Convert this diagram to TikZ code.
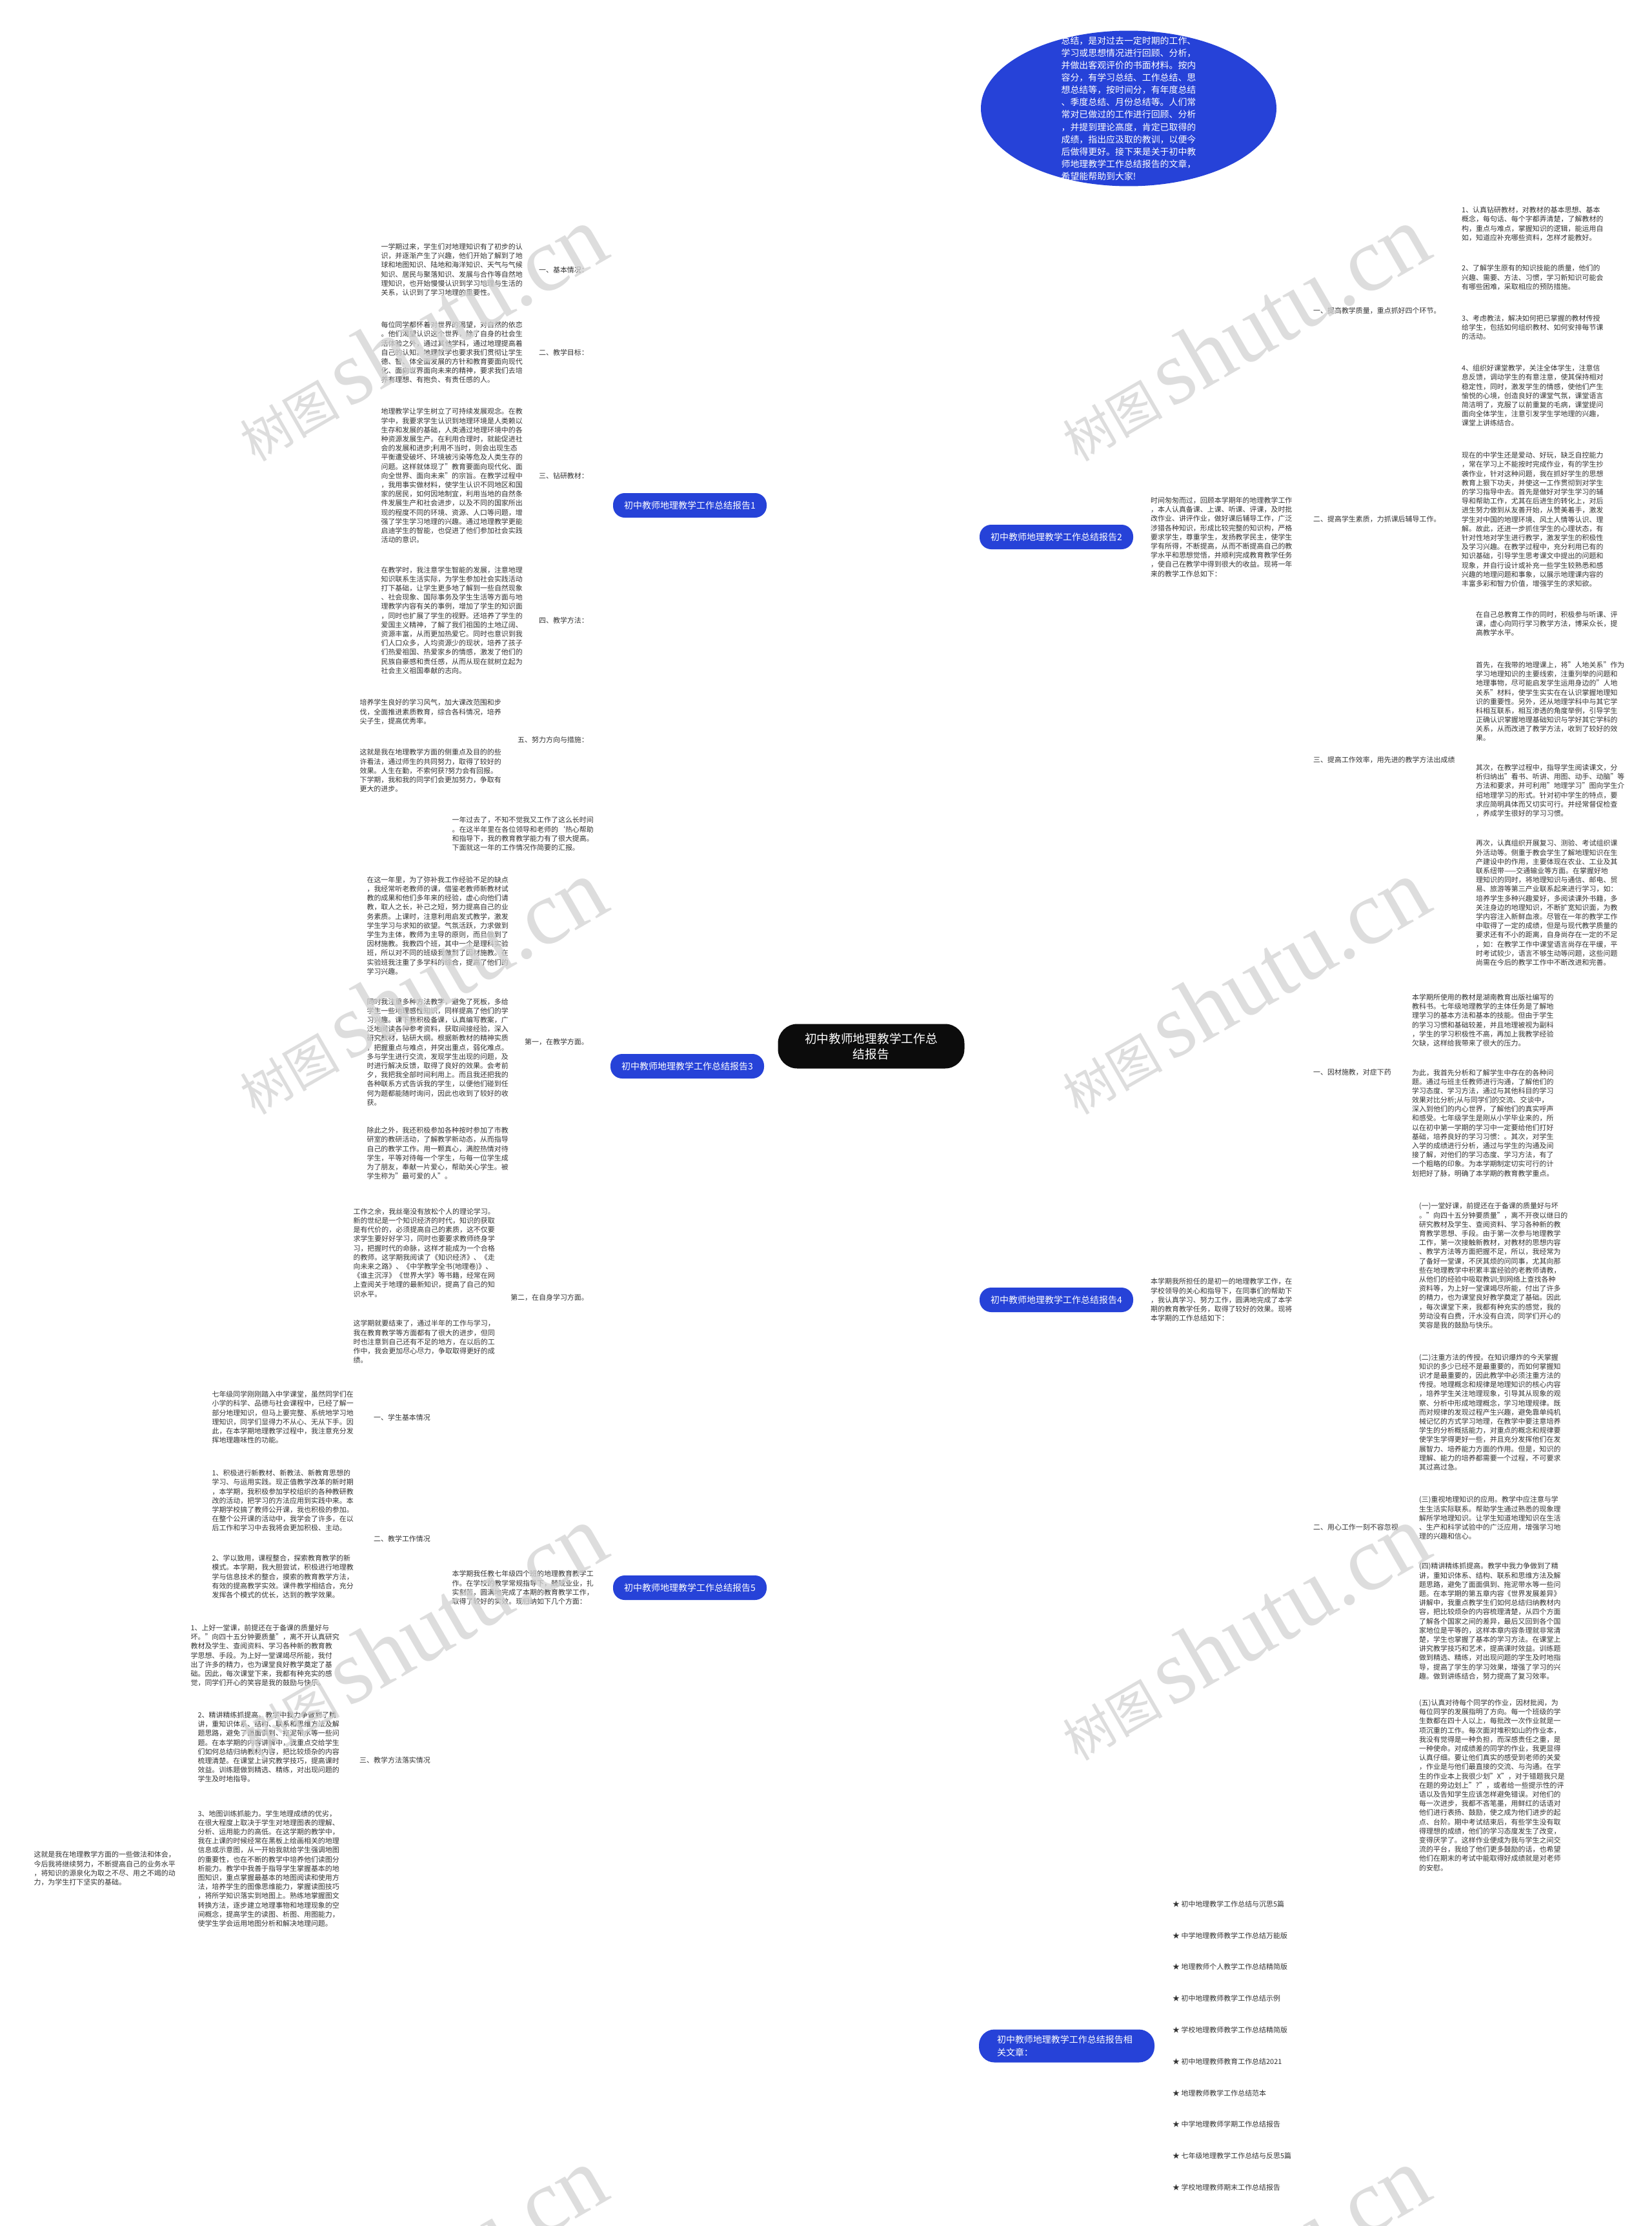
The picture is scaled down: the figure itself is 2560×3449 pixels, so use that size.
\documentclass[tikz,border=0pt]{standalone}
\usepackage{fontspec}
\setmainfont{Noto Sans CJK SC}
\newfontfamily\wmfont{Liberation Serif}
\usepackage{tikz}
\usetikzlibrary{positioning,backgrounds,shapes.geometric}
\definecolor{cblue}{HTML}{2642D8}
\definecolor{croot}{HTML}{0C0C0C}
\definecolor{ctext}{HTML}{333333}
\definecolor{cwm}{HTML}{D2D2D2}
\tikzset{
  root/.style={fill=croot,text=white,rounded corners=1.5cm,align=center,inner sep=0pt,
    minimum width=14.45cm,minimum height=3.45cm,font=\fontsize{26.6}{34.1}\selectfont},
  topic/.style={fill=cblue,text=white,rounded corners=0.9cm,inner sep=0pt,
    minimum width=11.9cm,minimum height=1.9cm,font=\fontsize{19.9}{28.5}\selectfont},
  sub/.style={text=ctext,inner sep=0.1cm,font=\fontsize{15.6}{20.2}\selectfont},
  leaf/.style={sub,align=left},
  link/.style={draw=black,line width=0.1cm,rounded corners=0.4cm},
  wm/.style={text=cwm,rotate=30,opacity=0.75},
}

\begin{document}
\begin{tikzpicture}[x=0.05cm,y=-0.05cm]
\fill[white] (0,0) rectangle (2560,3449);
\useasboundingbox (0,0) rectangle (2560,3449);

% ================= root and intro =================
\node[root] (ctr) at (1350,1621) {初中教师地理教学工作总\\结报告};
\node[ellipse,fill=cblue,minimum width=22.9cm,minimum height=12.05cm,inner sep=0pt] (tip) at (1749,168) {};
\node[text=white,align=left,font=\fontsize{19.8}{27.2}\selectfont] (tiptext) at (tip.center)
  {总结，是对过去一定时期的工作、\\学习或思想情况进行回顾、分析，\\并做出客观评价的书面材料。按内\\容分，有学习总结、工作总结、思\\想总结等，按时间分，有年度总结\\、季度总结、月份总结等。人们常\\常对已做过的工作进行回顾、分析\\，并提到理论高度，肯定已取得的\\成绩，指出应汲取的教训，以便今\\后做得更好。接下来是关于初中教\\师地理教学工作总结报告的文章，\\希望能帮助到大家!};

% ================= report 1 =================
\node[topic] (b1) at (1069,783) {初中教师地理教学工作总结报告1};
\node[sub,anchor=east] (b1a) at (914,418) {一、基本情况：};
\node[sub,anchor=east] (b1b) at (914,546) {二、教学目标：};
\node[sub,anchor=east] (b1c) at (914,737) {三、钻研教材：};
\node[sub,anchor=east] (b1d) at (914,961) {四、教学方法：};
\node[sub,anchor=east] (b1e) at (914,1146) {五、努力方向与措施：};
\node[leaf,anchor=east] (b1a1) at (812,418) {一学期过来，学生们对地理知识有了初步的认\\识，并逐渐产生了兴趣，他们开始了解到了地\\球和地图知识、陆地和海洋知识、天气与气候\\知识、居民与聚落知识、发展与合作等自然地\\理知识，也开始慢慢认识到学习地理与生活的\\关系，认识到了学习地理的重要性。};
\node[leaf,anchor=east] (b1b1) at (812,546) {每位同学都怀着对世界的渴望，对自然的依恋\\。他们渴望认识这个世界，除了自身的社会生\\活体验之外，通过其他学科，通过地理提高着\\自己的认知。地理教学也要求我们贯彻让学生\\德、智、体全面发展的方针和教育要面向现代\\化、面向世界面向未来的精神，要求我们去培\\养有理想、有抱负、有责任感的人。};
\node[leaf,anchor=east] (b1c1) at (812,737) {地理教学让学生树立了可持续发展观念。在教\\学中，我要求学生认识到地理环境是人类赖以\\生存和发展的基础，人类通过地理环境中的各\\种资源发展生产。在利用合理时，就能促进社\\会的发展和进步;利用不当时，则会出现生态\\平衡遭受破坏、环境被污染等危及人类生存的\\问题。这样就体现了"教育要面向现代化、面\\向全世界、面向未来"的宗旨。在教学过程中\\，我用事实做材料，使学生认识不同地区和国\\家的居民，如何因地制宜，利用当地的自然条\\件发展生产和社会进步，以及不同的国家所出\\现的程度不同的环境、资源、人口等问题，增\\强了学生学习地理的兴趣。通过地理教学更能\\启迪学生的智能，也促进了他们参加社会实践\\活动的意识。};
\node[leaf,anchor=east] (b1d1) at (812,961) {在教学时，我注意学生智能的发展，注意地理\\知识联系生活实际，为学生参加社会实践活动\\打下基础，让学生更多地了解到一些自然现象\\、社会现象、国际事务及学生生活等方面与地\\理教学内容有关的事例，增加了学生的知识面\\，同时也扩展了学生的视野。还培养了学生的\\爱国主义精神，了解了我们祖国的土地辽阔、\\资源丰富，从而更加热爱它。同时也意识到我\\们人口众多，人均资源少的现状，培养了孩子\\们热爱祖国、热爱家乡的情感，激发了他们的\\民族自豪感和责任感，从而从现在就树立起为\\社会主义祖国奉献的志向。};
\node[leaf,anchor=east] (b1e1) at (779,1103) {培养学生良好的学习风气，加大课改范围和步\\伐，全面推进素质教育，综合各科情况，培养\\尖子生，提高优秀率。};
\node[leaf,anchor=east] (b1e2) at (779,1194) {这就是我在地理教学方面的侧重点及目的的些\\许看法，通过师生的共同努力，取得了较好的\\效果。人生在勤，不索何获?努力会有回报。\\下学期，我和我的同学们会更加努力，争取有\\更大的进步。};

% ================= report 2 =================
\node[topic] (b2) at (1637,832) {初中教师地理教学工作总结报告2};
\node[leaf,anchor=west] (b2t) at (1781,832) {时间匆匆而过，回顾本学期年的地理教学工作\\，本人认真备课、上课、听课、评课，及时批\\改作业、讲评作业，做好课后辅导工作，广泛\\涉猎各种知识，形成比较完整的知识构，严格\\要求学生，尊重学生，发扬教学民主，使学生\\学有所得，不断提高，从而不断提高自己的教\\学水平和思想觉悟，并顺利完成教育教学任务\\，使自己在教学中得到很大的收益。现将一年\\来的教学工作总如下：};
\node[sub,anchor=west] (b2a) at (2033,481) {一、提高教学质量，重点抓好四个环节。};
\node[sub,anchor=west] (b2b) at (2033,804) {二、提高学生素质，力抓课后辅导工作。};
\node[sub,anchor=west] (b2c) at (2033,1177) {三、提高工作效率，用先进的教学方法出成绩};
\node[leaf,anchor=west] (b2a1) at (2263,347) {1、认真钻研教材，对教材的基本思想、基本\\概念，每句话、每个字都弄清楚，了解教材的\\构，重点与难点，掌握知识的逻辑，能运用自\\如，知道应补充哪些资料，怎样才能教好。};
\node[leaf,anchor=west] (b2a2) at (2263,430) {2、了解学生原有的知识技能的质量，他们的\\兴趣、需要、方法、习惯，学习新知识可能会\\有哪些困难，采取相应的预防措施。};
\node[leaf,anchor=west] (b2a3) at (2263,507) {3、考虑教法，解决如何把已掌握的教材传授\\给学生，包括如何组织教材、如何安排每节课\\的活动。};
\node[leaf,anchor=west] (b2a4) at (2263,613) {4、组织好课堂教学，关注全体学生，注意信\\息反馈，调动学生的有意注意，使其保持相对\\稳定性，同时，激发学生的情感，使他们产生\\愉悦的心境，创造良好的课堂气氛，课堂语言\\简洁明了，克服了以前重复的毛病，课堂提问\\面向全体学生，注意引发学生学地理的兴趣，\\课堂上讲练结合。};
\node[leaf,anchor=west] (b2b1) at (2263,805) {现在的中学生还是爱动、好玩，缺乏自控能力\\，常在学习上不能按时完成作业，有的学生抄\\袭作业，针对这种问题，我在抓好学生的思想\\教育上狠下功夫，并使这一工作贯彻到对学生\\的学习指导中去。首先是做好对学生学习的辅\\导和帮助工作，尤其在后进生的转化上，对后\\进生努力做到从友善开始，从赞美着手，激发\\学生对中国的地理环境、风土人情等认识、理\\解。故此，还进一步抓住学生的心理状态，有\\针对性地对学生进行教学，激发学生的积极性\\及学习兴趣。在教学过程中，充分利用已有的\\知识基础，引导学生思考课文中提出的问题和\\现象，并自行设计或补充一些学生较熟悉和感\\兴趣的地理问题和事象，以展示地理课内容的\\丰富多彩和智力价值，增强学生的求知欲。};
\node[leaf,anchor=west] (b2c1) at (2285,966) {在自己总教育工作的同时，积极参与听课、评\\课，虚心向同行学习教学方法，博采众长，提\\高教学水平。};
\node[leaf,anchor=west] (b2c2) at (2285,1087) {首先，在我带的地理课上，将"人地关系"作为\\学习地理知识的主要线索，注重列举的问题和\\地理事物，尽可能启发学生运用身边的"人地\\关系"材料，使学生实实在在认识掌握地理知\\识的重要性。另外，还从地理学科中与其它学\\科相互联系，相互渗透的角度举例，引导学生\\正确认识掌握地理基础知识与学好其它学科的\\关系，从而改进了教学方法，收到了较好的效\\果。};
\node[leaf,anchor=west] (b2c3) at (2285,1225) {其次，在教学过程中，指导学生阅读课文，分\\析归纳出"看书、听讲、用图、动手、动脑"等\\方法和要求，并可利用"地理学习"图向学生介\\绍地理学习的形式。针对初中学生的特点，要\\求应简明具体而又切实可行。并经常督促检查\\，养成学生很好的学习习惯。};
\node[leaf,anchor=west] (b2c4) at (2285,1399) {再次，认真组织开展复习、测验、考试组织课\\外活动等。侧重于教会学生了解地理知识在生\\产建设中的作用，主要体现在农业、工业及其\\联系纽带——交通输业等方面。在掌握好地\\理知识的同时，将地理知识与通信、邮电、贸\\易、旅游等第三产业联系起来进行学习，如：\\培养学生多种兴趣爱好，多阅读课外书籍，多\\关注身边的地理知识，不断扩宽知识面，为教\\学内容注入新鲜血液。尽管在一年的教学工作\\中取得了一定的成绩，但是与现代教学质量的\\要求还有不小的距离，自身尚存在一定的不足\\，如：在教学工作中课堂语言尚存在平缓，平\\时考试较少，语言不够生动等问题，这些问题\\尚需在今后的教学工作中不断改进和完善。};

% ================= report 3 =================
\node[topic] (b3) at (1065,1652) {初中教师地理教学工作总结报告3};
\node[leaf,anchor=east] (b3t) at (922,1292) {一年过去了，不知不觉我又工作了这么长时间\\。在这半年里在各位领导和老师的‘热心帮助\\和指导下，我的教育教学能力有了很大提高。\\下面就这一年的工作情况作简要的汇报。};
\node[sub,anchor=east] (b3a) at (914,1614) {第一，在教学方面。};
\node[sub,anchor=east] (b3b) at (914,2010) {第二，在自身学习方面。};
\node[leaf,anchor=east] (b3a1) at (790,1434) {在这一年里，为了弥补我工作经验不足的缺点\\，我经常听老教师的课，借鉴老教师新教材试\\教的成果和他们多年来的经验，虚心向他们请\\教，取人之长，补己之短，努力提高自己的业\\务素质。上课时，注意利用启发式教学，激发\\学生学习与求知的欲望。气氛活跃，力求做到\\学生为主体，教师为主导的原则，而且做到了\\因材施教。我教四个班，其中一个是理科实验\\班，所以对不同的班级我做到了因材施教。在\\实验班我注重了多学科的综合，提高了他们的\\学习兴趣。};
\node[leaf,anchor=east] (b3a2) at (790,1630) {同时我注重多种方法教学，避免了死板，多给\\学生一些地理感性知识，同样提高了他们的学\\习兴趣。课下我积极备课，认真编写教案，广\\泛地阅读各种参考资料，获取间接经验，深入\\研究教材，钻研大纲。根据新教材的精神实质\\，把握重点与难点，并突出重点，弱化难点。\\多与学生进行交流，发现学生出现的问题，及\\时进行解决反馈，取得了良好的效果。会考前\\夕，我把我全部时间利用上。而且我还把我的\\各种联系方式告诉我的学生，以便他们碰到任\\何为题都能随时询问，因此也收到了较好的收\\获。};
\node[leaf,anchor=east] (b3a3) at (790,1787) {除此之外，我还积极参加各种按时参加了市教\\研室的教研活动，了解教学新动态，从而指导\\自己的教学工作。用一颗真心，满腔热情对待\\学生，平等对待每一个学生，与每一位学生成\\为了朋友，奉献一片爱心，帮助关心学生。被\\学生称为"最可爱的人"。};
\node[leaf,anchor=east] (b3b1) at (769,1941) {工作之余，我丝毫没有放松个人的理论学习。\\新的世纪是一个知识经济的时代，知识的获取\\是有代价的，必须提高自己的素质，这不仅要\\求学生要好好学习，同时也要要求教师终身学\\习，把握时代的命脉，这样才能成为一个合格\\的教师。这学期我阅读了《知识经济》、《走\\向未来之路》、《中学教学全书(地理卷)》、\\《谁主沉浮》《世界大学》等书籍，经常在网\\上查阅关于地理的最新知识，提高了自己的知\\识水平。};
\node[leaf,anchor=east] (b3b2) at (769,2079) {这学期就要结束了，通过半年的工作与学习，\\我在教育教学等方面都有了很大的进步，但同\\时也注意到自己还有不足的地方，在以后的工\\作中，我会更加尽心尽力，争取取得更好的成\\绩。};

% ================= report 4 =================
\node[topic] (b4) at (1637,2014) {初中教师地理教学工作总结报告4};
\node[leaf,anchor=west] (b4t) at (1781,2014) {本学期我所担任的是初一的地理教学工作，在\\学校领导的关心和指导下，在同事们的帮助下\\，我认真学习、努力工作，圆满地完成了本学\\期的教育教学任务，取得了较好的效果。现将\\本学期的工作总结如下：};
\node[sub,anchor=west] (b4a) at (2033,1661) {一、因材施教，对症下药};
\node[sub,anchor=west] (b4b) at (2033,2366) {二、用心工作一刻不容忽视};
\node[leaf,anchor=west] (b4a1) at (2186,1581) {本学期所使用的教材是湖南教育出版社编写的\\教科书。七年级地理教学的主体任务是了解地\\理学习的基本方法和基本的技能。但由于学生\\的学习习惯和基础较差，并且地理被视为副科\\，学生的学习积极性不高，再加上我教学经验\\欠缺，这样给我带来了很大的压力。};
\node[leaf,anchor=west] (b4a2) at (2186,1740) {为此，我首先分析和了解学生中存在的各种问\\题。通过与班主任教师进行沟通，了解他们的\\学习态度、学习方法，通过与其他科目的学习\\效果对比分析;从与同学们的交流、交谈中，\\深入到他们的内心世界，了解他们的真实呼声\\和感受。七年级学生是刚从小学毕业来的，所\\以在初中第一学期的学习中一定要给他们打好\\基础，培养良好的学习习惯：。其次，对学生\\入学的成绩进行分析，通过与学生的沟通及间\\接了解，对他们的学习态度、学习方法，有了\\一个粗略的印象。为本学期制定切实可行的计\\划把好了脉，明确了本学期的教育教学重点。};
\node[leaf,anchor=west] (b4b1) at (2197,1961) {(一)一堂好课，前提还在于备课的质量好与坏\\。"向四十五分钟要质量"，离不开夜以继日的\\研究教材及学生、查阅资料、学习各种新的教\\育教学思想、手段。由于第一次参与地理教学\\工作，第一次接触新教材，对教材的思想内容\\、教学方法等方面把握不足，所以，我经常为\\了备好一堂课，不厌其烦的问同事，尤其向那\\些在地理教学中积累丰富经验的老教师请教，\\从他们的经验中吸取教训;到网络上查找各种\\资料等，为上好一堂课竭尽所能，付出了许多\\的精力，也为课堂良好教学奠定了基础。因此\\，每次课堂下来，我都有种充实的感觉，我的\\劳动没有白费，汗水没有白流，同学们开心的\\笑容是我的鼓励与快乐。};
\node[leaf,anchor=west] (b4b2) at (2197,2188) {(二)注重方法的传授。在知识爆炸的今天掌握\\知识的多少已经不是最重要的，而如何掌握知\\识才是最重要的，因此教学中必须注重方法的\\传授。地理概念和规律是地理知识的核心内容\\，培养学生关注地理现象，引导其从现象的观\\察、分析中形成地理概念，学习地理规律。既\\而对规律的发现过程产生兴趣，避免靠单纯机\\械记忆的方式学习地理，在教学中要注意培养\\学生的分析概括能力，对重点的概念和规律要\\使学生学得更好一些，并且充分发挥他们在发\\展智力、培养能力方面的作用。但是，知识的\\理解、能力的培养都需要一个过程，不可要求\\其过高过急。};
\node[leaf,anchor=west] (b4b3) at (2197,2352) {(三)重视地理知识的应用。教学中应注意与学\\生生活实际联系。帮助学生通过熟悉的现象理\\解所学地理知识。让学生知道地理知识在生活\\、生产和科学试验中的广泛应用，增强学习地\\理的兴趣和信心。};
\node[leaf,anchor=west] (b4b4) at (2197,2512) {(四)精讲精练抓提高。教学中我力争做到了精\\讲，重知识体系、结构、联系和思维方法及解\\题思路，避免了面面俱到、拖泥带水等一些问\\题。在本学期的第五章内容《世界发展差异》\\讲解中，我重点教学生们如何总结归纳教材内\\容，把比较烦杂的内容梳理清楚，从四个方面\\了解各个国家之间的差异，最后又回到各个国\\家地位是平等的，这样本章内容条理就非常清\\楚，学生也掌握了基本的学习方法。在课堂上\\讲究教学技巧和艺术，提高课时效益。训练题\\做到精选、精练，对出现问题的学生及时地指\\导，提高了学生的学习效果，增强了学习的兴\\趣。做到讲练结合，努力提高了复习效率。};
\node[leaf,anchor=west] (b4b5) at (2197,2766) {(五)认真对待每个同学的作业，因材批阅，为\\每位同学的发展指明了方向。每一个班级的学\\生数都在四十人以上，每批改一次作业就是一\\项沉重的工作。每次面对堆积如山的作业本，\\我没有觉得是一种负担，而深感责任之重，是\\一种使命。对成绩差的同学的作业，我更显得\\认真仔细。要让他们真实的感受到老师的关爱\\，作业是与他们最直接的交流、与沟通。在学\\生的作业本上我很少划"X"，对于错题我只是\\在题的旁边划上"?"，或者给一些提示性的评\\语以及告知学生应该怎样避免错误。对他们的\\每一次进步，我都不吝笔墨，用鲜红的话语对\\他们进行表扬、鼓励，使之成为他们进步的起\\点、台阶。期中考试结束后，有些学生没有取\\得理想的成绩，他们的学习态度发生了改变，\\变得厌学了。这样作业便成为我与学生之间交\\流的平台，我给了他们更多鼓励的话，也希望\\他们在期末的考试中能取得好成绩就是对老师\\的安慰。};

% ================= report 5 =================
\node[topic] (b5) at (1069,2460) {初中教师地理教学工作总结报告5};
\node[leaf,anchor=east] (b5t) at (922,2460) {本学期我任教七年级四个班的地理教育教学工\\作。在学校的教学常规指导下，兢兢业业，扎\\实刻苦，圆满地完成了本期的教育教学工作，\\取得了较好的实效。现归纳如下几个方面：};
\node[sub,anchor=east] (b5a) at (669,2196) {一、学生基本情况};
\node[sub,anchor=east] (b5b) at (669,2384) {二、教学工作情况};
\node[sub,anchor=east] (b5c) at (669,2727) {三、教学方法落实情况};
\node[leaf,anchor=east] (b5a1) at (550,2196) {七年级同学刚刚踏入中学课堂，虽然同学们在\\小学的科学、品德与社会课程中，已经了解一\\部分地理知识，但马上要完整、系统地学习地\\理知识，同学们显得力不从心、无从下手。因\\此，在本学期地理教学过程中，我注意充分发\\挥地理趣味性的功能。};
\node[leaf,anchor=east] (b5b1) at (550,2325) {1、积极进行新教材、新教法、新教育思想的\\学习、与运用实践。现正值教学改革的新时期\\，本学期，我积极参加学校组织的各种教研教\\改的活动，把学习的方法应用到实践中来。本\\学期学校搞了教师公开课，我也积极的参加。\\在整个公开课的活动中，我学会了许多，在以\\后工作和学习中去我将会更加积极、主动。};
\node[leaf,anchor=east] (b5b2) at (550,2443) {2、学以致用，课程整合，探索教育教学的新\\模式。本学期，我大胆尝试，积极进行地理教\\学与信息技术的整合，摸索的教育教学方法，\\有效的提高教学实效。课件教学相结合，充分\\发挥各个模式的优长，达到的教学效果。};
\node[leaf,anchor=east] (b5c1) at (528,2565) {1、上好一堂课，前提还在于备课的质量好与\\坏。"向四十五分钟要质量"，离不开认真研究\\教材及学生、查阅资料、学习各种新的教育教\\学思想、手段。为上好一堂课竭尽所能，我付\\出了许多的精力，也为课堂良好教学奠定了基\\础。因此，每次课堂下来，我都有种充实的感\\觉，同学们开心的笑容是我的鼓励与快乐。};
\node[leaf,anchor=east] (b5c2) at (528,2707) {2、精讲精练抓提高。教学中我力争做到了精\\讲，重知识体系、结构、联系和思维方法及解\\题思路，避免了面面俱到、拖泥带水等一些问\\题。在本学期的内容讲解中，我重点交给学生\\们如何总结归纳教材内容，把比较烦杂的内容\\梳理清楚。在课堂上讲究教学技巧，提高课时\\效益。训练题做到精选、精练，对出现问题的\\学生及时地指导。};
\node[leaf,anchor=east] (b5c3) at (528,2895) {3、地图训练抓能力。学生地理成绩的优劣，\\在很大程度上取决于学生对地理图表的理解、\\分析、运用能力的高低。在这学期的教学中，\\我在上课的时候经常在黑板上绘画相关的地理\\信息或示意图，从一开始我就给学生强调地图\\的重要性，也在不断的教学中培养他们读图分\\析能力。教学中我善于指导学生掌握基本的地\\图知识，重点掌握最基本的地图阅读和使用方\\法，培养学生的图像思维能力，掌握读图技巧\\，将所学知识落实到地图上。熟练地掌握图文\\转换方法，逐步建立地理事物和地理现象的空\\间概念，提高学生的读图、析图、用图能力，\\使学生学会运用地图分析和解决地理问题。};
\node[leaf,anchor=east] (b5c3x) at (274,2895) {这就是我在地理教学方面的一些做法和体会，\\今后我将继续努力，不断提高自己的业务水平\\，将知识的源泉化为取之不尽、用之不竭的动\\力，为学生打下坚实的基础。};

% ================= related articles =================
\node[topic,align=left,text width=10.8cm,minimum width=13.6cm,minimum height=2.55cm,rounded corners=1.2cm] (rel) at (1653,3170) {初中教师地理教学工作总结报告相\\关文章：};
\foreach \t [count=\i] in {初中地理教学工作总结与沉思5篇,中学地理教师教学工作总结万能版,地理教师个人教学工作总结精简版,初中地理教师教学工作总结示例,学校地理教师教学工作总结精简版,初中地理教师教育工作总结2021,地理教师教学工作总结范本,中学地理教师学期工作总结报告,七年级地理教学工作总结与反思5篇,学校地理教师期末工作总结报告}
  \node[sub,anchor=west] (r\i) at (1815,2901.2+48.8*\i) {★ \t};

% ================= connectors =================
\begin{scope}[on background layer]
  \draw[link] (ctr.north) .. controls (ctr.north |- tip.west) .. (tip.west);
  \draw[link] (ctr.north) .. controls (ctr.north |- b1.east) .. (b1.east);
  \draw[link] (ctr.north) .. controls (ctr.north |- b2.west) .. (b2.west);
  \draw[link] (b3.east) -- (b3.east -| ctr.center);
  \draw[link] (ctr.south) .. controls (ctr.south |- b4.west) .. (b4.west);
  \draw[link] (ctr.south) .. controls (ctr.south |- b5.east) .. (b5.east);
  \draw[link] (ctr.south) .. controls (ctr.south |- rel.west) .. (rel.west);
  % report 1
  \foreach \n in {b1a,b1b,b1c,b1d,b1e} \draw[link] (b1.west) -- ++(-18,0) |- (\n.east);
  \foreach \n in {b1a,b1b,b1c,b1d} \draw[link] (\n.west) -- (\n1.east);
  \foreach \n in {b1e1,b1e2} \draw[link] (b1e.west) -- ++(-8,0) |- (\n.east);
  % report 2
  \draw[link] (b2.east) -- (b2t.west);
  \foreach \n in {b2a,b2b,b2c} \draw[link] (b2t.east) -- ++(14,0) |- (\n.west);
  \foreach \i in {1,...,4} \draw[link] (b2a.east) -- ++(14,0) |- (b2a\i.west);
  \draw[link] (b2b.east) -- (b2b1.west);
  \foreach \i in {1,...,4} \draw[link] (b2c.east) -- ++(12,0) |- (b2c\i.west);
  % report 3
  \foreach \n in {b3t,b3a,b3b} \draw[link] (b3.west) -- ++(-17,0) |- (\n.east);
  \foreach \i in {1,2,3} \draw[link] (b3a.west) -- ++(-8,0) |- (b3a\i.east);
  \foreach \i in {1,2} \draw[link] (b3b.west) -- ++(-9,0) |- (b3b\i.east);
  % report 4
  \draw[link] (b4.east) -- (b4t.west);
  \foreach \n in {b4a,b4b} \draw[link] (b4t.east) -- ++(14,0) |- (\n.west);
  \foreach \i in {1,2} \draw[link] (b4a.east) -- ++(14,0) |- (b4a\i.west);
  \foreach \i in {1,...,5} \draw[link] (b4b.east) -- ++(13,0) |- (b4b\i.west);
  % report 5
  \draw[link] (b5.west) -- (b5t.east);
  \foreach \n in {b5a,b5b,b5c} \draw[link] (b5t.west) -- ++(-15,0) |- (\n.east);
  \draw[link] (b5a.west) -- (b5a1.east);
  \foreach \i in {1,2} \draw[link] (b5b.west) -- ++(-13,0) |- (b5b\i.east);
  \foreach \i in {1,2,3} \draw[link] (b5c.west) -- ++(-15,0) |- (b5c\i.east);
  \draw[link] (b5c3.west) -- (b5c3x.east);
  % related
  \foreach \i in {1,...,10} \draw[link] (rel.east) -- ++(15,0) |- (r\i.west);
\end{scope}

% ================= watermarks =================
\foreach \x/\y [count=\k] in {650/517,1925/517,650/1529,1925/1529,650/2530,1925/2530,650/3525,1925/3525}
  \node[wm] (wm\k) at (\x,\y) {\fontsize{110}{110}\selectfont 树图\,{\wmfont\fontsize{200}{200}\selectfont shutu.cn}};
\end{tikzpicture}
\end{document}
